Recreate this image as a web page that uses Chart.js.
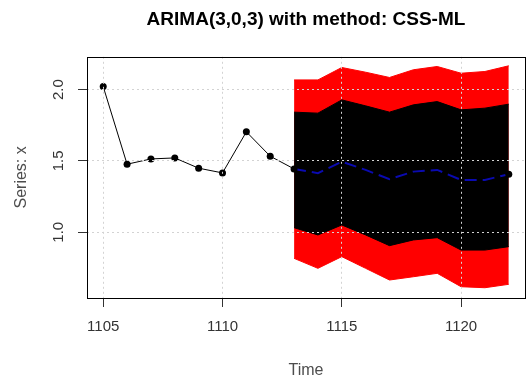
<!DOCTYPE html>
<html>
<head>
<meta charset="utf-8">
<script src="https://cdn.jsdelivr.net/npm/chart.js@4"></script>
<style>
  body { margin: 0; background: #fff; }
</style>
</head>
<body>
<canvas id="myChart" width="529" height="381"></canvas>
<script>
// observed series
var obsTime = [1105, 1106, 1107, 1108, 1109, 1110, 1111, 1112, 1113];
var obsValue = [2.021, 1.477, 1.514, 1.521, 1.449, 1.416, 1.704, 1.533, 1.444];

// forecast (mean + 80% / 95% intervals)
var fcTime = [1113, 1114, 1115, 1116, 1117, 1118, 1119, 1120, 1121, 1122];
var fcMean = [1.444, 1.414, 1.495, 1.437, 1.372, 1.425, 1.437, 1.367, 1.367, 1.407];
var hi95 = [2.068, 2.068, 2.155, 2.122, 2.085, 2.139, 2.162, 2.115, 2.127, 2.167];
var hi80 = [1.842, 1.835, 1.928, 1.886, 1.842, 1.893, 1.916, 1.858, 1.870, 1.898];
var lo80 = [1.032, 0.981, 1.051, 0.981, 0.906, 0.946, 0.962, 0.875, 0.875, 0.899];
var lo95 = [0.817, 0.747, 0.829, 0.747, 0.665, 0.688, 0.712, 0.618, 0.611, 0.635];

var xTicks = [1105, 1110, 1115, 1120];
var yTicks = [1.0, 1.5, 2.0];

function pts(xs, ys) {
    return xs.map(function (x, i) { return { x: x, y: ys[i] }; });
}

var FONT = "'Liberation Sans', Arial, sans-serif";

// R style box round the plot region
var boxPlugin = {
    id: 'box',
    afterDraw: function (chart) {
        var a = chart.chartArea;
        var c = chart.ctx;
        c.save();
        c.strokeStyle = '#000';
        c.lineWidth = 1;
        c.strokeRect(Math.round(a.left) + 0.5, Math.round(a.top) + 0.5,
            Math.round(a.right - a.left), Math.round(a.bottom - a.top));
        c.restore();
    }
};

var ctx = document.querySelector('#myChart').getContext('2d');
var myChart = new Chart(ctx, {
    type: 'line',
    data: {
        datasets: [{
            label: 'hi95',
            data: pts(fcTime, hi95),
            borderColor: '#ff0000',
            backgroundColor: '#ff0000',
            borderWidth: 1,
            pointRadius: 0,
            fill: 1,
            order: 5
        }, {
            label: 'lo95',
            data: pts(fcTime, lo95),
            borderColor: '#ff0000',
            borderWidth: 1,
            pointRadius: 0,
            fill: false,
            order: 5
        }, {
            label: 'hi80',
            data: pts(fcTime, hi80),
            borderColor: '#000',
            backgroundColor: '#000',
            borderWidth: 1,
            pointRadius: 0,
            fill: 3,
            order: 4
        }, {
            label: 'lo80',
            data: pts(fcTime, lo80),
            borderColor: '#000',
            borderWidth: 1,
            pointRadius: 0,
            fill: false,
            order: 4
        }, {
            label: 'mean',
            data: pts(fcTime, fcMean),
            borderColor: '#0a0ab0',
            borderWidth: 2,
            borderDash: [12, 6],
            pointBackgroundColor: '#000',
            pointBorderWidth: 0,
            pointRadius: function (c) { return c.dataIndex === fcTime.length - 1 ? 3.5 : 0; },
            fill: false,
            order: 2
        }, {
            label: 'x',
            data: pts(obsTime, obsValue),
            borderColor: '#000',
            borderWidth: 1,
            pointBackgroundColor: '#000',
            pointBorderWidth: 0,
            pointRadius: 3.5,
            fill: false,
            order: 1
        }]
    },
    options: {
        responsive: false,
        animation: false,
        layout: { padding: { left: 0, right: 2, top: 0, bottom: 0 } },
        elements: { line: { tension: 0 } },
        plugins: {
            legend: { display: false },
            tooltip: { enabled: false },
            title: {
                display: true,
                fullSize: false,
                text: 'ARIMA(3,0,3) with method: CSS-ML',
                color: '#000',
                font: { family: FONT, size: 19, weight: 'bold' },
                padding: { top: 8, bottom: 26 }
            }
        },
        scales: {
            x: {
                type: 'linear',
                min: 1104.32,
                max: 1122.68,
                afterFit: function (s) { s.height = 83; },
                afterBuildTicks: function (s) { s.ticks = xTicks.map(function (v) { return { value: v }; }); },
                border: { display: false, dash: [2, 3] },
                grid: {
                    z: 1,
                    color: '#d3d3d3',
                    drawTicks: true,
                    tickLength: 9,
                    tickColor: '#333',
                    tickWidth: 1
                },
                ticks: {
                    color: '#333',
                    padding: 11,
                    maxRotation: 0,
                    font: { family: FONT, size: 15 },
                    callback: function (v) { return String(v); }
                },
                title: {
                    display: true,
                    text: 'Time',
                    color: '#4d4d4d',
                    font: { family: FONT, size: 16 },
                    padding: { top: 0, bottom: 1 }
                }
            },
            y: {
                type: 'linear',
                min: 0.539,
                max: 2.23,
                afterFit: function (s) { s.width = 87; },
                afterBuildTicks: function (s) { s.ticks = yTicks.map(function (v) { return { value: v }; }); },
                border: { display: false, dash: [2, 3] },
                grid: {
                    z: 1,
                    color: '#d3d3d3',
                    drawTicks: true,
                    tickLength: 9,
                    tickColor: '#333',
                    tickWidth: 1
                },
                ticks: {
                    color: '#333',
                    padding: 9,
                    minRotation: 90,
                    maxRotation: 90,
                    crossAlign: 'center',
                    font: { family: FONT, size: 15 },
                    callback: function (v) { return v.toFixed(1); }
                },
                title: {
                    display: true,
                    text: 'Series: x',
                    color: '#4d4d4d',
                    font: { family: FONT, size: 16 },
                    padding: { top: 12, bottom: 0 }
                }
            }
        }
    },
    plugins: [boxPlugin]
});
</script>
</body>
</html>
